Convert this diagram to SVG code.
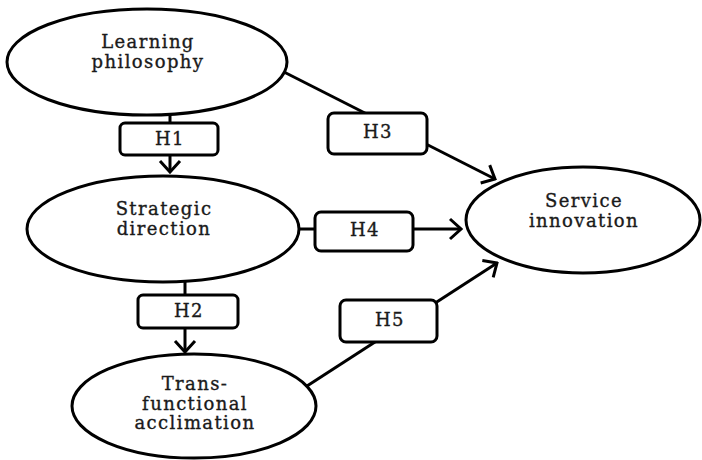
<svg xmlns="http://www.w3.org/2000/svg" width="702" height="460" viewBox="0 0 702 460">
<style>
.node ellipse{fill:#fff;stroke:#000;stroke-width:3}
.lbl{font-family:"DejaVu Serif","Liberation Serif",serif;font-size:18px;letter-spacing:1.4px;fill:#1a1a1a;stroke:#1a1a1a;stroke-width:0.35;text-anchor:middle}
.edge{stroke:#000;stroke-width:3;fill:none}
.box{fill:#fff;stroke:#000;stroke-width:3}
</style>
<defs>
<marker id="arr" markerUnits="userSpaceOnUse" viewBox="-14 -13 16 26" refX="0" refY="0" markerWidth="16" markerHeight="26" orient="auto">
<path d="M-11,-10 L0,0 L-11,10" fill="none" stroke="#000" stroke-width="3" stroke-linejoin="miter"/>
</marker>
</defs>
<g id="learning" class="node">
<ellipse cx="147" cy="62" rx="140" ry="53"/>
<text class="lbl" x="148" y="48">Learning</text>
<text class="lbl" x="148" y="68">philosophy</text>
</g>
<g id="strategic" class="node">
<ellipse cx="163" cy="229" rx="136" ry="53"/>
<text class="lbl" x="164" y="215">Strategic</text>
<text class="lbl" x="164" y="235">direction</text>
</g>
<g id="trans" class="node">
<ellipse cx="194" cy="406" rx="122" ry="52"/>
<text class="lbl" x="195" y="390">Trans-</text>
<text class="lbl" x="195" y="410">functional</text>
<text class="lbl" x="195" y="429">acclimation</text>
</g>
<g id="service" class="node">
<ellipse cx="583" cy="220" rx="117" ry="53"/>
<text class="lbl" x="584" y="207">Service</text>
<text class="lbl" x="584" y="227">innovation</text>
</g>
<g id="connectors">
<line class="edge" x1="170" y1="115" x2="170" y2="172" marker-end="url(#arr)"/>
<line class="edge" x1="185" y1="282" x2="185" y2="352" marker-end="url(#arr)"/>
<line class="edge" x1="284" y1="72" x2="495" y2="179" marker-end="url(#arr)"/>
<line class="edge" x1="298" y1="229" x2="461" y2="229" marker-end="url(#arr)"/>
<line class="edge" x1="307" y1="386" x2="497" y2="263" marker-end="url(#arr)"/>
<g id="h1"><rect class="box" x="120" y="123" width="98" height="32" rx="5"/><text class="lbl" x="170" y="145">H1</text></g>
<g id="h2"><rect class="box" x="138" y="295" width="100" height="33" rx="5"/><text class="lbl" x="189" y="317">H2</text></g>
<g id="h3"><rect class="box" x="328" y="113" width="99" height="41" rx="6"/><text class="lbl" x="378" y="138">H3</text></g>
<g id="h4"><rect class="box" x="315" y="212" width="98" height="39" rx="6"/><text class="lbl" x="365" y="236">H4</text></g>
<g id="h5"><rect class="box" x="340" y="300" width="97" height="42" rx="6"/><text class="lbl" x="390" y="326">H5</text></g>
</g>
</svg>
